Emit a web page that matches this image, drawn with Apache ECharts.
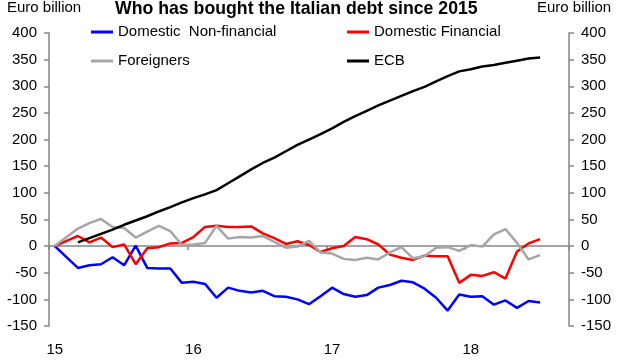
<!DOCTYPE html>
<html>
<head>
<meta charset="utf-8">
<script src="https://cdn.jsdelivr.net/npm/echarts@6/dist/echarts.min.js"></script>
<style>html,body{margin:0;padding:0;background:#fff}#c{width:640px;height:360px}</style>
</head>
<body>
<div id="c"></div>
<script>
// Monthly categories Jan 2015 .. Sep 2018
const months = [
 '2015-01','2015-02','2015-03','2015-04','2015-05','2015-06','2015-07','2015-08','2015-09','2015-10','2015-11','2015-12',
 '2016-01','2016-02','2016-03','2016-04','2016-05','2016-06','2016-07','2016-08','2016-09','2016-10','2016-11','2016-12',
 '2017-01','2017-02','2017-03','2017-04','2017-05','2017-06','2017-07','2017-08','2017-09','2017-10','2017-11','2017-12',
 '2018-01','2018-02','2018-03','2018-04','2018-05','2018-06','2018-07','2018-08','2018-09'
];
const yearLabels = ['15','16','17','18'];
const seriesNames = ['Domestic  Non-financial','Domestic Financial','Foreigners','ECB'];

const domesticNonFin = [0,null,-41,-36,-34,-21,-36,1,-41,-42,-42,-69,
 -67,-71,-97,-78,-84,-87,-84,-94,-95,-100,-109,-94,
 -78,-90,-95,-92,-78,-73,-65,-68,-80,-97,-121,-91,
 -95,-94,-110,-102,-116,-103,-106];
const domesticFin = [0,null,19,7,16,-2,3,-34,-4,-2,5,6,
 17,36,38,36,36,37,24,15,4,9,2,-11,
 -4,0,17,13,3,-16,-22,-26,-18,-19,-19,-69,
 -54,-56,-49,-61,-10,5,13];
const foreigners = [0,null,33,43,51,36,34,16,27,38,28,2,
 3,6,38,14,17,16,19,8,-3,-1,10,-12,
 -14,-24,-26,-22,-25,-12,-2,-23,-19,-3,-2,-9,
 2,-1,22,32,6,-25,-17];
const ecb = [null,null,7,15,23,31,40,48,56,65,73,82,
 90,97,105,118,131,144,156,166,178,190,200,210,
 221,233,244,254,264,273,282,291,299,309,319,328,
 332,337,340,344,348,352,354];

const font = "'Liberation Sans', Arial, sans-serif";
const colors = ['#0000ff','#ff0000','#a6a6a6','#000000'];
const datasets = [domesticNonFin, domesticFin, foreigners, ecb];

const chart = echarts.init(document.getElementById('c'), null, {renderer:'canvas'});
const yAxisCommon = {
  type:'value', min:-150, max:400, interval:50,
  splitLine:{show:false},
  axisLine:{show:true, lineStyle:{color:'#868686', width:1.5}},
  axisTick:{show:true, inside:false, length:5, lineStyle:{color:'#868686', width:1.5}},
  axisLabel:{color:'#000', fontSize:15, fontFamily:font, margin:12}
};
chart.setOption({
  animation:false,
  backgroundColor:'#fff',
  textStyle:{fontFamily:font},
  title:{
    text:'Who has bought the Italian debt since 2015',
    left:115, top:0, padding:0,
    textStyle:{fontSize:17.7, fontWeight:'bold', color:'#000', fontFamily:font}
  },
  graphic:[
    {type:'text', left:7, top:0, style:{text:'Euro billion', fontSize:15, fontFamily:font, fill:'#000'}},
    {type:'text', left:537, top:0, style:{text:'Euro billion', fontSize:15, fontFamily:font, fill:'#000'}}
  ],
  legend:[
    {data:[seriesNames[0], seriesNames[2]], orient:'vertical', left:91, top:23,
     itemWidth:22, itemHeight:3, icon:'rect', itemGap:11, padding:0,
     textStyle:{fontSize:15, fontFamily:font, color:'#000', lineHeight:18}},
    {data:[seriesNames[1], seriesNames[3]], orient:'vertical', left:347, top:23,
     itemWidth:22, itemHeight:3, icon:'rect', itemGap:11, padding:0,
     textStyle:{fontSize:15, fontFamily:font, color:'#000', lineHeight:18}}
  ],
  grid:{left:49, right:71, top:33, bottom:34, containLabel:false, outerBoundsMode:'none'},
  xAxis:[
    {type:'category', data:months, boundaryGap:true, position:'bottom',
     axisLine:{show:false, onZero:false}, axisTick:{show:false},
     axisLabel:{show:true, interval:0, margin:16, fontSize:15, fontFamily:font, color:'#000',
       formatter:(v, i) => (i % 12 === 0 ? yearLabels[i / 12] : '')}},
    {type:'category', data:months, boundaryGap:true, position:'bottom',
     axisLine:{show:true, onZero:true, onZeroAxisIndex:0, lineStyle:{color:'#868686', width:1.5}},
     axisTick:{show:true, length:4, interval:(i) => i % 12 === 0, lineStyle:{color:'#868686', width:1.5}},
     axisLabel:{show:false}}
  ],
  yAxis:[
    Object.assign({position:'left'}, yAxisCommon),
    Object.assign({position:'right'}, yAxisCommon)
  ],
  series: seriesNames.map((n, k) => ({
    name:n, type:'line', data:datasets[k], xAxisIndex:0, yAxisIndex:0,
    symbol:'none', connectNulls:true, smooth:false,
    itemStyle:{color:colors[k]},
    lineStyle:{color:colors[k], width:2.5}
  }))
});
</script>
</body>
</html>
